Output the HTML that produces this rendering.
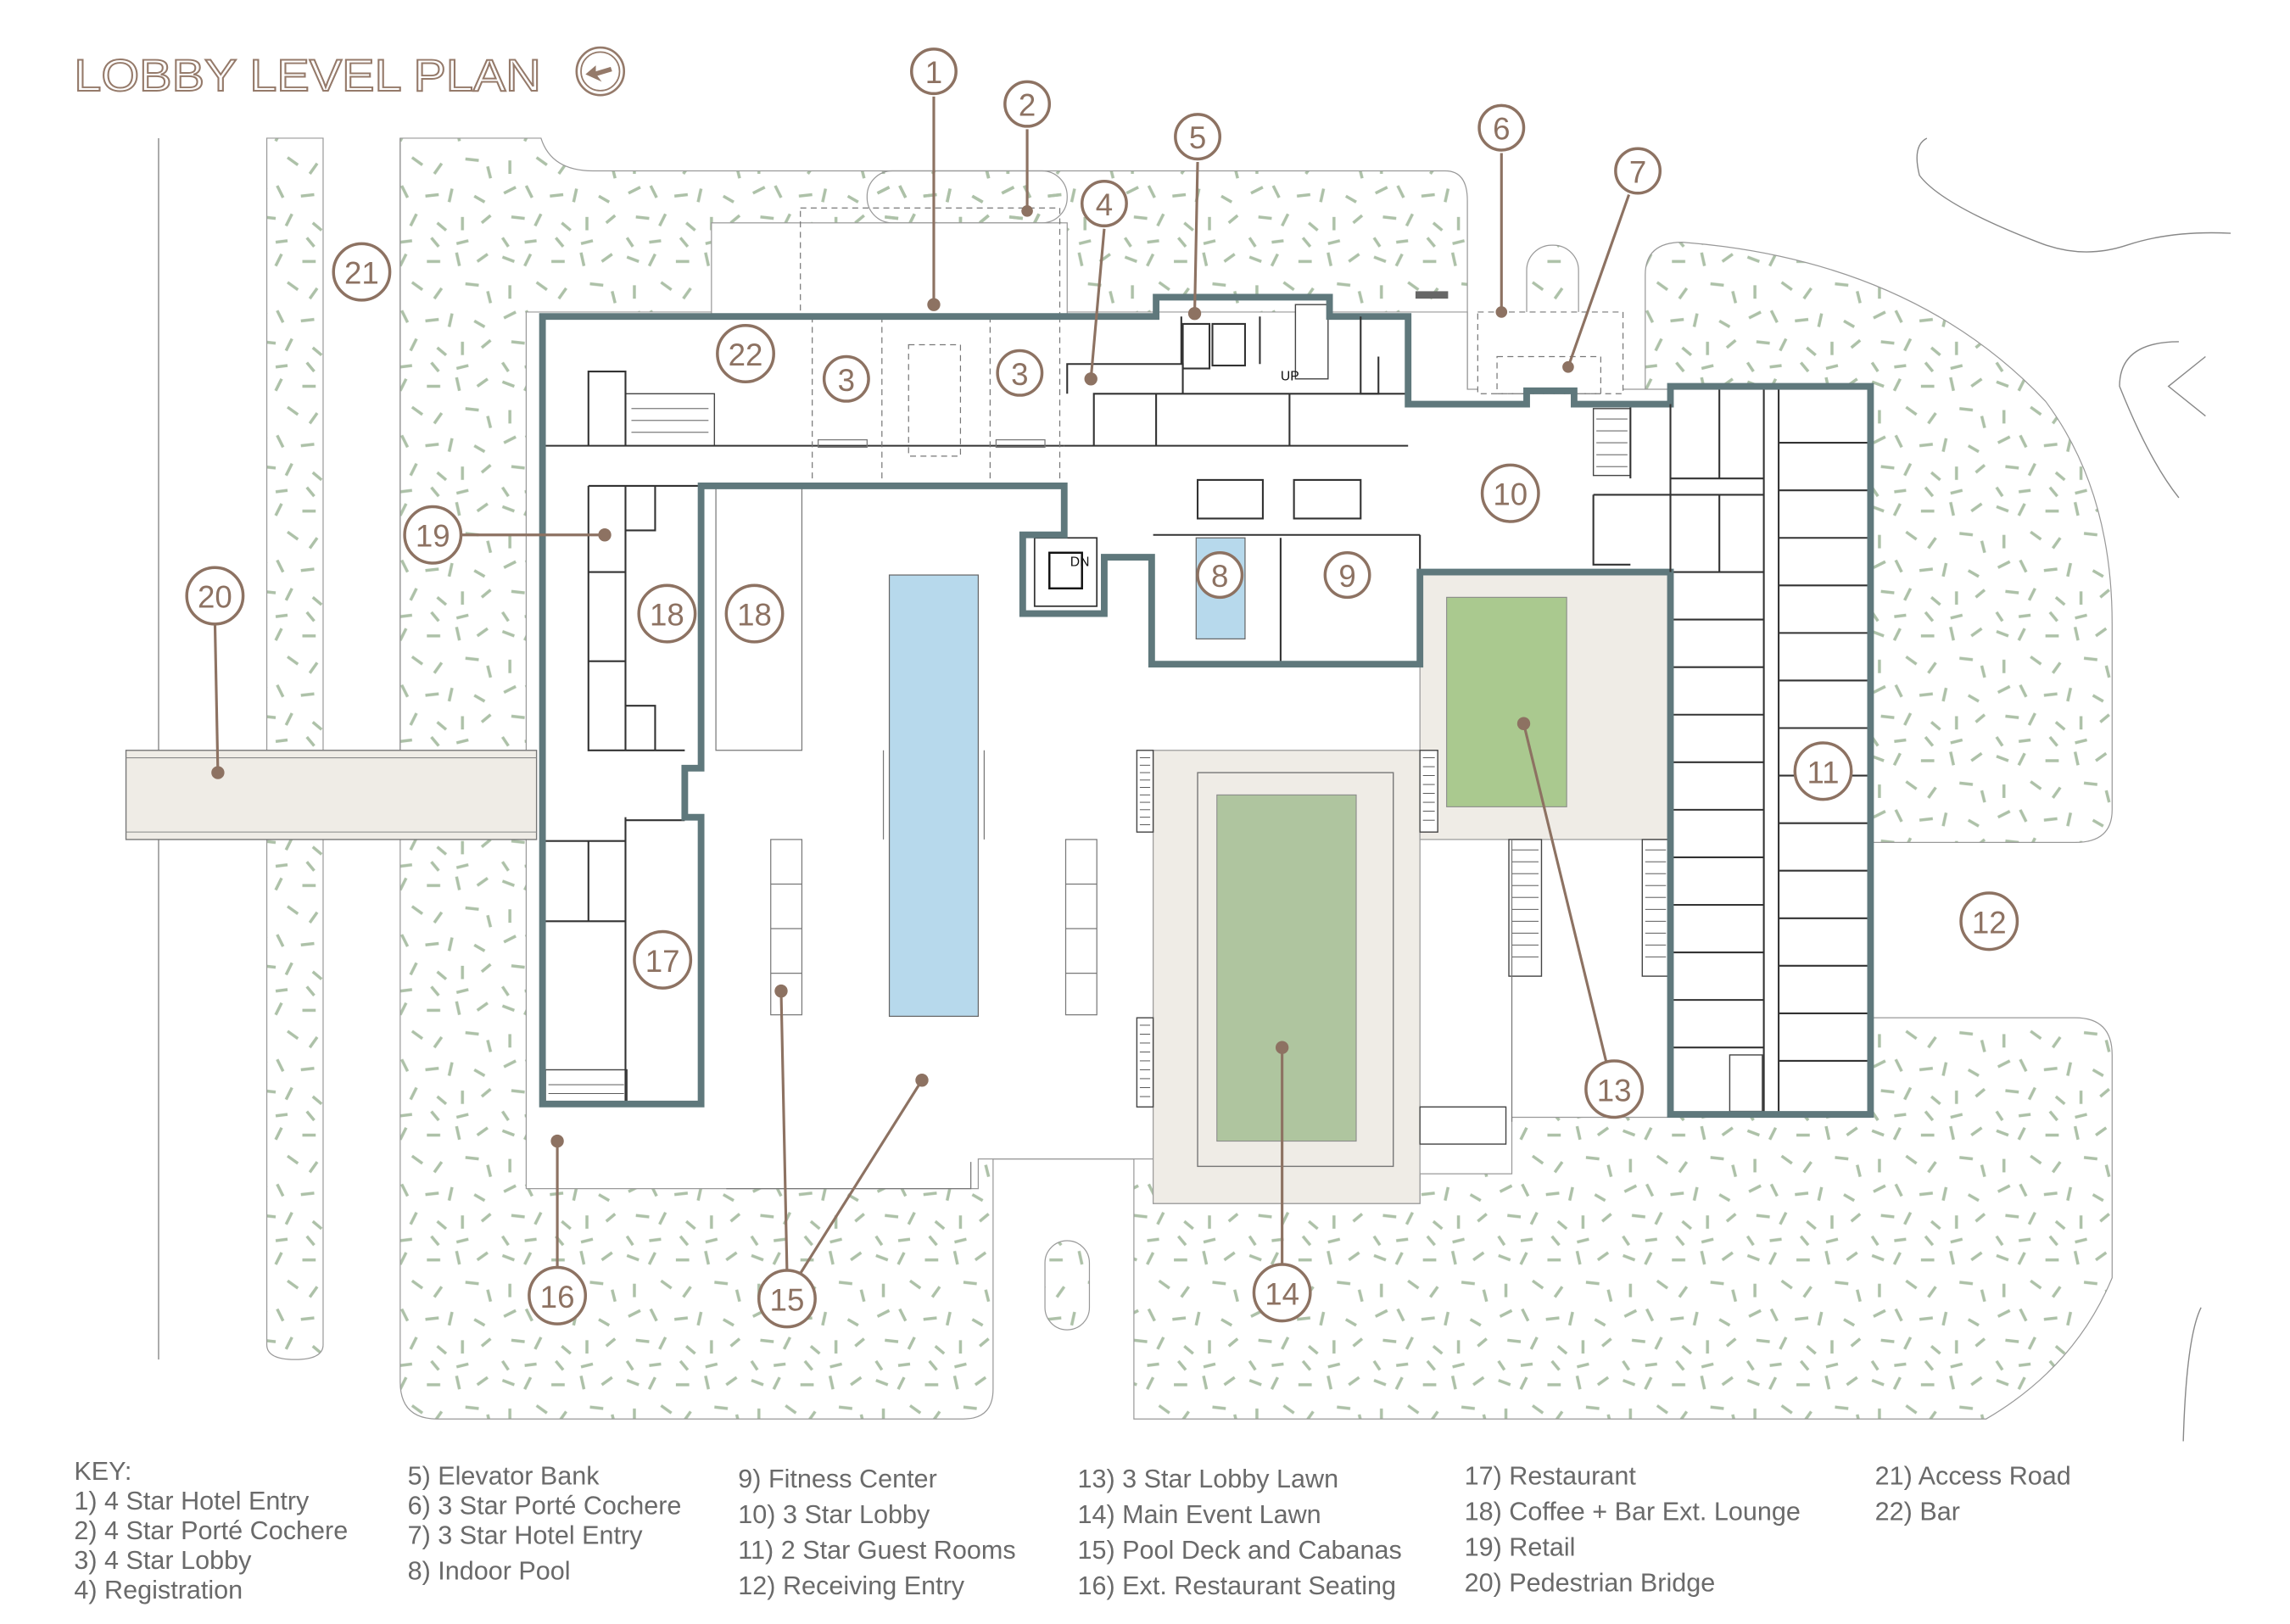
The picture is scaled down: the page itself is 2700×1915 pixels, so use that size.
<!DOCTYPE html>
<html><head><meta charset="utf-8"><style>
html,body{margin:0;padding:0;background:#fff;}
svg{display:block;}
text{font-family:"Liberation Sans",sans-serif;}
</style></head><body>
<svg width="2700" height="1915" viewBox="0 0 1545 1093" preserveAspectRatio="none" xmlns="http://www.w3.org/2000/svg">
<defs>
<pattern id="h" width="84" height="84" patternUnits="userSpaceOnUse">
<g stroke="#adc1a8" stroke-width="2" fill="none">
<path d="M3,5 l8,3 M22,3 l-4,8 M36,8 l9,0 M56,2 l2,9 M70,8 l7,-5 M8,24 l0,9 M26,22 l7,5 M46,26 l-5,7 M62,23 l9,1 M77,28 l2,8 M4,46 l8,-4 M19,41 l4,8 M35,48 l9,-1 M53,43 l-2,9 M68,48 l7,4 M9,62 l9,1 M29,60 l-4,8 M43,66 l6,5 M60,62 l0,9 M73,66 l6,-5 M3,76 l4,6 M18,79 l8,-1 M39,76 l5,6 M56,80 l8,-2"/>
</g>
</pattern>
</defs>
<rect width="1545" height="1093" fill="#fff"/>

<text x="50" y="61" font-size="30" textLength="315" lengthAdjust="spacingAndGlyphs" fill="#fff" stroke="#957a6a" stroke-width="1.1">LOBBY LEVEL PLAN</text>
<circle cx="405" cy="48" r="16" fill="none" stroke="#957a6a" stroke-width="1.5"/>
<circle cx="405" cy="48" r="13" fill="none" stroke="#957a6a" stroke-width="1"/>
<path d="M395,50 l7,-6 l0,4 l10,-3 l1,3 l-10,3 l3,4 z" fill="#957a6a"/>

<g stroke="#888" stroke-width="0.8" fill="none">
<line x1="107" y1="93" x2="107" y2="505"/>
<line x1="107" y1="565" x2="107" y2="915"/>
<line x1="270" y1="93" x2="270" y2="505"/>
<path d="M1300,93 q-10,5 -5,25 q15,20 80,45 q30,12 60,2 q30,-10 70,-8"/>
<path d="M1470,230 q-40,0 -40,30 q20,50 40,75"/>
<path d="M1488,240 l-25,20 l25,20"/>
<path d="M1485,880 q-10,20 -12,90"/>
</g>

<g fill="url(#h)" stroke="#999" stroke-width="0.7">
<path d="M180,93 L218,93 L218,905 Q218,915 199,915 Q180,915 180,905 Z"/>
<path d="M270,93 L365,93 Q372,115 400,115 L975,115 Q990,115 990,135 L990,265 L1110,265 L1110,185 Q1110,163 1135,163 Q1290,175 1380,270 Q1425,330 1425,420 L1425,545 Q1425,567 1400,567 L1262,567 L1262,685 L1400,685 Q1425,685 1425,710 L1425,860 Q1400,920 1340,955 L765,955 L765,780 L670,780 L670,935 Q670,955 650,955 L295,955 Q270,955 270,930 Z"/>
<rect x="1030" y="165" width="35" height="65" rx="17" />
<rect x="705" y="835" width="30" height="60" rx="15"/>
<rect x="585" y="115" width="135" height="35" rx="17"/>
</g>
<path d="M355,210 L990,210 L990,262 L1262,262 L1262,752 L1020,752 L1020,790 L958,790 L958,810 L778,810 L778,780 L660,780 L660,800 L355,800 Z" fill="#fff" stroke="#999" stroke-width="0.7"/>
<rect x="480" y="150" width="240" height="63" fill="#fff" stroke="#999" stroke-width="0.7"/>
<rect x="540" y="140" width="175" height="73" fill="none" stroke="#777" stroke-width="0.7" stroke-dasharray="4,3"/>
<rect x="997" y="210" width="98" height="55" fill="#fff" stroke="#777" stroke-width="0.7" stroke-dasharray="4,3"/>
<rect x="1010" y="240" width="70" height="25" fill="none" stroke="#777" stroke-width="0.7" stroke-dasharray="4,3"/>
<rect x="955" y="196" width="22" height="5" fill="#666"/>

<rect x="85" y="505" width="277" height="60" fill="#efece6" stroke="#777" stroke-width="0.8"/>
<line x1="85" y1="510" x2="362" y2="510" stroke="#888" stroke-width="0.6"/>
<line x1="85" y1="560" x2="362" y2="560" stroke="#888" stroke-width="0.6"/>

<rect x="778" y="505" width="180" height="305" fill="#efece6" stroke="#999" stroke-width="0.7"/>
<rect x="808" y="520" width="132" height="265" fill="none" stroke="#777" stroke-width="0.8"/>
<rect x="821" y="535" width="94" height="233" fill="#afc59f" stroke="#888" stroke-width="0.6"/>
<rect x="958" y="385" width="169" height="180" fill="#efece6" stroke="#999" stroke-width="0.7"/>
<rect x="976" y="402" width="81" height="141" fill="#aac98f" stroke="#888" stroke-width="0.6"/>
<rect x="600" y="387" width="60" height="297" fill="#b7d9ec" stroke="#666" stroke-width="0.7"/>
<rect x="807" y="362" width="33" height="68" fill="#b7d9ec" stroke="#666" stroke-width="0.7"/>

<g fill="#fff" stroke="#444" stroke-width="0.8">
<rect x="767" y="505" width="11" height="55"/><rect x="767" y="685" width="11" height="60"/>
<rect x="958" y="505" width="12" height="55"/>
<rect x="1018" y="565" width="22" height="92"/><rect x="1108" y="565" width="18" height="92"/>
<rect x="958" y="745" width="58" height="25"/>
<rect x="1075" y="275" width="25" height="45"/>
<rect x="874" y="205" width="22" height="50"/>
<rect x="422" y="265" width="60" height="35"/>
<rect x="368" y="720" width="55" height="22"/>
<rect x="1167" y="710" width="22" height="38"/>
</g>
<g stroke="#444" stroke-width="0.5">
<path d="M769,510 h7 M769,515 h7 M769,520 h7 M769,525 h7 M769,530 h7 M769,535 h7 M769,540 h7 M769,545 h7 M769,550 h7 M769,555 h7"/>
<path d="M769,690 h7 M769,696 h7 M769,702 h7 M769,708 h7 M769,714 h7 M769,720 h7 M769,726 h7 M769,732 h7 M769,738 h7"/>
<path d="M960,510 h8 M960,516 h8 M960,522 h8 M960,528 h8 M960,534 h8 M960,540 h8 M960,546 h8 M960,552 h8"/>
<path d="M1020,572 h18 M1020,580 h18 M1020,588 h18 M1020,596 h18 M1020,604 h18 M1020,612 h18 M1020,620 h18 M1020,628 h18 M1020,636 h18 M1020,644 h18"/>
<path d="M1110,572 h14 M1110,580 h14 M1110,588 h14 M1110,596 h14 M1110,604 h14 M1110,612 h14 M1110,620 h14 M1110,628 h14 M1110,636 h14 M1110,644 h14"/>
<path d="M1077,282 h21 M1077,290 h21 M1077,298 h21 M1077,306 h21 M1077,314 h21"/>
<path d="M426,275 h52 M426,283 h52 M426,291 h52 M370,730 h51 M370,736 h51"/>
</g>

<g fill="none" stroke="#333" stroke-width="1.2">
<path d="M366,300 H718"/>
<path d="M397,300 V250 H422 V300"/>
<path d="M718,300 H950"/>
<path d="M738,300 V265 H950 M780,265 V300 M720,265 V245 H798 V265 M870,265 V300"/>
<path d="M797,213 V245 M850,213 V245"/>
<rect x="798" y="218" width="18" height="30"/><rect x="818" y="218" width="22" height="28"/>
<path d="M397,327 H473 M397,327 V505 H462 M422,327 V357 H442 V327 M422,475 H442 V505 M397,385 H422 M397,445 H422 M422,327 V505"/>
<path d="M366,566 H422 M397,566 V620 H422 M422,550 V743 M366,620 H422 M422,552 H462"/>
<path d="M778,447 V375 M778,360 H958 M864,362 V447 M958,360 V385 M808,323 H852 V349 H808 Z M873,323 H918 V349 H873 Z"/>
<path d="M1127,322 H1190 M1127,385 H1190 M1190,262 V750 M1200,262 V750 M1160,262 V322 M1127,333 H1190 M1160,333 V385 M1100,272 V322 M1075,333 H1127 M1075,333 V380 H1100"/>
<path d="M1200,298 H1262 M1200,330 H1262 M1200,362 H1262 M1200,394 H1262 M1200,426 H1262 M1200,458 H1262 M1200,490 H1262 M1200,522 H1262 M1200,554 H1262 M1200,586 H1262 M1200,618 H1262 M1200,650 H1262 M1200,682 H1262 M1200,714 H1262"/>
<path d="M1127,417 H1190 M1127,449 H1190 M1127,481 H1190 M1127,513 H1190 M1127,545 H1190 M1127,577 H1190 M1127,609 H1190 M1127,641 H1190 M1127,673 H1190 M1127,705 H1190"/>
</g>
<g fill="none" stroke="#777" stroke-width="0.7">
<path d="M483,327 V505 H541 V327"/>
<path d="M548,213 V327 M595,213 V327 M668,213 V327 M715,213 V327" stroke-dasharray="4,3"/>
<rect x="613" y="232" width="35" height="75" stroke-dasharray="4,3"/>
<rect x="520" y="565" width="21" height="118"/><path d="M520,595 h21 M520,625 h21 M520,655 h21"/>
<rect x="719" y="565" width="21" height="118"/><path d="M719,595 h21 M719,625 h21 M719,655 h21"/>
<path d="M596,505 V565 M664,505 V565 M1020,565 V755"/>
<path d="M490,800 H655 V782"/>
<rect x="552" y="296" width="33" height="5"/><rect x="672" y="296" width="33" height="5"/>
</g>
<rect x="698" y="362" width="42" height="46" fill="#fff" stroke="#333" stroke-width="1"/>
<rect x="708" y="372" width="22" height="24" fill="#fff" stroke="#111" stroke-width="1.4"/>
<text x="722" y="381" font-size="9" fill="#111">DN</text>
<text x="864" y="256" font-size="9" fill="#111">UP</text>

<path d="M366,213 L780,213 L780,200 L897,200 L897,213 L950,213 L950,272 L1030,272 L1030,263 L1062,263 L1062,272 L1127,272 L1127,260 L1262,260 L1262,750 L1127,750 L1127,385 L958,385 L958,447 L777,447 L777,375 L745,375 L745,413 L690,413 L690,360 L718,360 L718,327 L473,327 L473,517 L462,517 L462,550 L473,550 L473,743 L366,743 Z" fill="none" stroke="#5f787c" stroke-width="4.5" stroke-linejoin="miter"/>
<path d="M918,213 V265 H930 V240 M1127,272 V385" fill="none" stroke="#333" stroke-width="1.2"/>

<g stroke="#8d7262" stroke-width="1.8" fill="#8d7262">
<line x1="630" y1="65" x2="630" y2="205"/><circle cx="630" cy="205" r="3.5"/>
<line x1="693" y1="87" x2="693" y2="142"/><circle cx="693" cy="142" r="3"/>
<line x1="745" y1="154" x2="736" y2="255"/><circle cx="736" cy="255" r="3.5"/>
<line x1="808" y1="109" x2="806" y2="211"/><circle cx="806" cy="211" r="3.5"/>
<line x1="1013" y1="103" x2="1013" y2="210"/><circle cx="1013" cy="210" r="3"/>
<line x1="1099" y1="131" x2="1058" y2="247"/><circle cx="1058" cy="247" r="3"/>
<line x1="1084" y1="716" x2="1028" y2="487"/><circle cx="1028" cy="487" r="3.5"/>
<line x1="865" y1="853" x2="865" y2="705"/><circle cx="865" cy="705" r="3.5"/>
<line x1="531" y1="857" x2="527" y2="667"/><circle cx="527" cy="667" r="3.5"/>
<line x1="540" y1="857" x2="622" y2="727"/><circle cx="622" cy="727" r="3.5"/>
<line x1="376" y1="855" x2="376" y2="768"/><circle cx="376" cy="768" r="3.5"/>
<line x1="309" y1="360" x2="408" y2="360"/><circle cx="408" cy="360" r="3.5"/>
<line x1="145" y1="418" x2="147" y2="520"/><circle cx="147" cy="520" r="3.5"/>
</g>
<g font-size="21" fill="#8d7262" text-anchor="middle">
<g fill="#fff" stroke="#8d7262" stroke-width="2">
<circle cx="630" cy="48" r="15"/><circle cx="693" cy="70" r="15"/><circle cx="571" cy="255" r="15"/><circle cx="688" cy="251" r="15"/>
<circle cx="745" cy="137" r="15"/><circle cx="808" cy="92" r="15"/><circle cx="1013" cy="86" r="15"/><circle cx="1105" cy="115" r="15"/>
<circle cx="823" cy="387" r="15"/><circle cx="909" cy="387" r="15"/><circle cx="1019" cy="332" r="19"/><circle cx="1230" cy="519" r="19"/>
<circle cx="1342" cy="620" r="19"/><circle cx="1089" cy="733" r="19"/><circle cx="865" cy="870" r="19"/><circle cx="531" cy="874" r="19"/>
<circle cx="376" cy="872" r="19"/><circle cx="447" cy="646" r="19"/><circle cx="450" cy="413" r="19"/><circle cx="509" cy="413" r="19"/>
<circle cx="292" cy="360" r="19"/><circle cx="145" cy="401" r="19"/><circle cx="244" cy="183" r="19"/><circle cx="503" cy="238" r="19"/>
</g>
<text x="630" y="56">1</text><text x="693" y="78">2</text><text x="571" y="263">3</text><text x="688" y="259">3</text>
<text x="745" y="145">4</text><text x="808" y="100">5</text><text x="1013" y="94">6</text><text x="1105" y="123">7</text>
<text x="823" y="395">8</text><text x="909" y="395">9</text><text x="1019" y="340">10</text><text x="1230" y="527">11</text>
<text x="1342" y="628">12</text><text x="1089" y="741">13</text><text x="865" y="878">14</text><text x="531" y="882">15</text>
<text x="376" y="880">16</text><text x="447" y="654">17</text><text x="450" y="421">18</text><text x="509" y="421">18</text>
<text x="292" y="368">19</text><text x="145" y="409">20</text><text x="244" y="191">21</text><text x="503" y="246">22</text>
</g>

<g font-size="17.5" fill="#6a6a6a">
<text x="50" y="996">KEY:</text>
<text x="50" y="1016">1) 4 Star Hotel Entry</text>
<text x="50" y="1036">2) 4 Star Porté Cochere</text>
<text x="50" y="1056">3) 4 Star Lobby</text>
<text x="50" y="1076">4) Registration</text>
<text x="275" y="999">5) Elevator Bank</text>
<text x="275" y="1019">6) 3 Star Porté Cochere</text>
<text x="275" y="1039">7) 3 Star Hotel Entry</text>
<text x="275" y="1063">8) Indoor Pool</text>
<text x="498" y="1001">9) Fitness Center</text>
<text x="498" y="1025">10) 3 Star Lobby</text>
<text x="498" y="1049">11) 2 Star Guest Rooms</text>
<text x="498" y="1073">12) Receiving Entry</text>
<text x="727" y="1001">13) 3 Star Lobby Lawn</text>
<text x="727" y="1025">14) Main Event Lawn</text>
<text x="727" y="1049">15) Pool Deck and Cabanas</text>
<text x="727" y="1073">16) Ext. Restaurant Seating</text>
<text x="988" y="999">17) Restaurant</text>
<text x="988" y="1023">18) Coffee + Bar Ext. Lounge</text>
<text x="988" y="1047">19) Retail</text>
<text x="988" y="1071">20) Pedestrian Bridge</text>
<text x="1265" y="999">21) Access Road</text>
<text x="1265" y="1023">22) Bar</text>
</g>
</svg>
</body></html>
